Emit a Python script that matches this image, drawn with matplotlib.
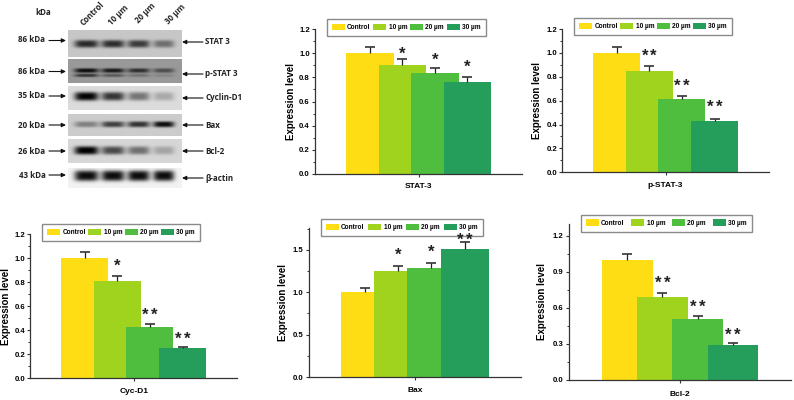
import numpy as np
import matplotlib
matplotlib.use("Agg")
import matplotlib.pyplot as plt
from matplotlib.ticker import MultipleLocator

# chart values
doses = ["Control", "10 µm", "20 µm", "30 µm"]
panel_names = ["STAT-3", "p-STAT-3", "Cyc-D1", "Bax", "Bcl-2"]

stat3_means = [1.0, 0.90, 0.84, 0.76]
stat3_errs = [0.05, 0.05, 0.04, 0.04]
stat3_stars = ["", "*", "*", "*"]
stat3_star_y = [0, 1.005, 0.96, 0.895]

pstat3_means = [1.0, 0.85, 0.61, 0.43]
pstat3_errs = [0.05, 0.04, 0.03, 0.02]
pstat3_stars = ["", "**", "**", "**"]
pstat3_star_y = [0, 0.99, 0.737, 0.556]

cyc_means = [1.0, 0.81, 0.43, 0.25]
cyc_errs = [0.05, 0.04, 0.02, 0.01]
cyc_stars = ["", "*", "**", "**"]
cyc_star_y = [0, 0.95, 0.54, 0.34]

bax_means = [1.0, 1.25, 1.29, 1.51]
bax_errs = [0.05, 0.06, 0.06, 0.08]
bax_stars = ["", "*", "*", "**"]
bax_star_y = [0, 1.46, 1.49, 1.64]

bcl2_means = [1.0, 0.69, 0.51, 0.29]
bcl2_errs = [0.05, 0.03, 0.02, 0.015]
bcl2_stars = ["", "**", "**", "**"]
bcl2_star_y = [0, 0.82, 0.617, 0.386]

# blot band darkness per lane
stat3_bands = [0.62, 0.60, 0.55, 0.35]
pstat3_upper = [0.55, 0.50, 0.42, 0.30]
pstat3_lower = [0.40, 0.25, 0.15, 0.08]
cyclin_bands = [0.85, 0.65, 0.40, 0.20]
bax_bands = [0.30, 0.55, 0.60, 0.75]
bcl2_bands = [0.85, 0.55, 0.40, 0.20]
actin_bands = [0.90, 0.90, 0.90, 0.90]

left_labels = ["86 kDa", "86 kDa", "35 kDa", "20 kDa", "26 kDa", "43 kDa"]
right_labels = ["STAT 3", "p-STAT 3", "Cyclin-D1", "Bax", "Bcl-2", "β-actin"]

colors = ["#FFDD15", "#A0D31D", "#4FBE3F", "#259E5B"]
W, H = 794, 400

plt.rcParams["font.family"] = ["Liberation Sans", "DejaVu Sans"]
plt.rcParams["font.weight"] = "bold"
plt.rcParams["axes.labelweight"] = "bold"

fig = plt.figure(figsize=(W / 100, H / 100), dpi=100)


def px_axes(left, right, top, bottom):
    return fig.add_axes([left / W, 1 - bottom / H, (right - left) / W, (bottom - top) / H])


def bar_panel(box, bars_x, ymax, major, means, errs, stars, star_y, name, legend_box, label_x, name_y):
    left, right, top, bottom = box
    first, step, width = bars_x
    ax = px_axes(left, right, top, bottom)
    xs = np.arange(len(means))
    for i in xs:
        ax.bar(i, means[i], width=width / step, color=colors[i], label=doses[i], zorder=1 + i * 0.01)
        # double stars are set apart by hand, "**" as one string is too tight
        n = len(stars[i])
        for k in range(n):
            dx = (k - (n - 1) / 2) * 6.3
            ax.annotate("*", (i, star_y[i]), xytext=(dx, -4.5), textcoords="offset points",
                        ha="center", va="baseline", fontsize=12, color="#222222", zorder=6)
    # upper half of the error bar only
    ax.vlines(xs, means, np.add(means, errs), color="#222222", lw=0.9, zorder=5)
    ax.plot(xs, np.add(means, errs), ls="none", marker="_", ms=6.5, mew=1.1, color="#222222", zorder=5)

    ax.set_xlim((left - first) / step, (right - first) / step)
    ax.set_ylim(0, ymax)
    ax.set_xticks([1.5])
    ax.set_xticklabels([""])
    ax.yaxis.set_major_locator(MultipleLocator(major))
    ax.yaxis.set_minor_locator(MultipleLocator(major / 2))
    ax.yaxis.set_major_formatter(lambda v, p: f"{v:.1f}")
    ax.tick_params(axis="both", which="major", length=2.2, width=0.8, color="#333333", labelsize=5.6, pad=1.5)
    ax.tick_params(axis="y", which="minor", length=1.3, width=0.7, color="#333333")
    for s in ["top", "right"]:
        ax.spines[s].set_visible(False)
    for s in ["left", "bottom"]:
        ax.spines[s].set_color("#333333")
        ax.spines[s].set_linewidth(0.9)
    ax.set_ylabel("Expression level", fontsize=7.0, va="center")
    ax.yaxis.set_label_coords((label_x - left) / (right - left), 0.5)
    ax.set_xlabel(name, fontsize=6.0, va="center")
    ax.xaxis.set_label_coords(0.5, (bottom - name_y) / (bottom - top))

    x0, x1, y0, y1 = legend_box
    ax.legend(loc="lower left", bbox_to_anchor=(x0 / W, 1 - y1 / H, (x1 - x0) / W, (y1 - y0) / H),
              bbox_transform=fig.transFigure, mode="expand", ncols=4, fontsize=4.7, borderaxespad=0,
              fancybox=False, framealpha=1, edgecolor="#8a8a8a", handlelength=2.0, handleheight=1.1,
              handletextpad=0.35, columnspacing=0.3, borderpad=0.75)
    return ax


bar_panel((315, 522, 29.3, 173.7), (346 + 23.75, 32.5, 47.5), 1.2, 0.2,
          stat3_means, stat3_errs, stat3_stars, stat3_star_y, panel_names[0], (326.7, 485.7, 19.3, 36), 290.7, 186.7)
bar_panel((562.3, 768.7, 29, 172.3), (593 + 23.5, 32.7, 47), 1.2, 0.2,
          pstat3_means, pstat3_errs, pstat3_stars, pstat3_star_y, panel_names[1], (574.3, 731.7, 19.3, 35), 537.3, 186)
bar_panel((30.3, 237.3, 234.3, 378.3), (61 + 23.5, 32.7, 47), 1.2, 0.2,
          cyc_means, cyc_errs, cyc_stars, cyc_star_y, panel_names[2], (42.3, 200, 224.3, 241), 5.7, 391.7)
bar_panel((308.7, 520.7, 228.3, 377), (340.7 + 24.1, 33.3, 48.3), 1.756, 0.5,
          bax_means, bax_errs, bax_stars, bax_star_y, panel_names[3], (320.7, 482.7, 219, 236.3), 283.3, 390.7)
bar_panel((568.7, 790.7, 224.3, 379.7), (602 + 25.25, 35.2, 50.5), 1.295, 0.3,
          bcl2_means, bcl2_errs, bcl2_stars, bcl2_star_y, panel_names[4], (581, 751.7, 214, 231.7), 541.7, 395)

# western blot panel, drawn in pixel coordinates
blot = fig.add_axes([0, 1 - 195 / H, 260 / W, 195 / H])
blot.set_xlim(0, 260)
blot.set_ylim(195, 0)
blot.axis("off")

lane_x = [86, 112.5, 138, 163]
lane_w = [12, 11.5, 11, 10.5]


def strip(y0, y1, bg, rows):
    xx, yy = np.meshgrid(np.linspace(67.7, 181, 340), np.linspace(y0, y1, int((y1 - y0) * 3)))
    img = np.full(xx.shape, float(bg))
    for cy, hy, bands in rows:
        for cx, wx, d in zip(lane_x, lane_w, bands):
            img -= d * np.exp(-np.abs((xx - cx) / wx) ** 4 - np.abs((yy - cy) / hy) ** 3)
    blot.imshow(np.clip(img, 0, 1), cmap="gray", vmin=0, vmax=1, extent=(67.7, 181, y1, y0),
                aspect="auto", interpolation="bilinear")


strip(30, 56.7, 0.78, [(43.7, 3.8, stat3_bands)])
strip(60, 83.3, 0.60, [(71.2, 2.2, pstat3_upper), (76, 1.6, pstat3_lower)])
strip(86, 110, 0.86, [(96.3, 4.4, cyclin_bands)])
strip(114, 136, 0.80, [(124.3, 3.0, bax_bands)])
strip(139.3, 163.3, 0.84, [(150.7, 4.2, bcl2_bands)])
strip(168, 188, 0.95, [(175.7, 5.4, actin_bands)])
blot.set_xlim(0, 260)
blot.set_ylim(195, 0)

blot_font = dict(family=["Open Sans", "DejaVu Sans"], fontsize=5.8, color="#222222", fontweight="bold")
blot.text(43.7, 12.7, "kDa", ha="center", va="center", **blot_font)
for name, x, y in zip(doses, [92, 118.3, 145, 175], [13.3, 15, 13.3, 14]):
    blot.text(x, y, name, rotation=45, ha="center", va="center", **blot_font)

left_y = [40, 71.7, 95.3, 125, 151, 175]
left_arrow_y = [40.5, 71.5, 96, 125, 151, 175]
right_y = [42, 74, 98, 125, 151, 178]
arrow = dict(arrowstyle="-|>,head_length=0.25,head_width=0.12", color="#111111", lw=0.8,
             shrinkA=0, shrinkB=0)
for lab, y, ay in zip(left_labels, left_y, left_arrow_y):
    blot.text(32, y, lab, ha="center", va="center", **blot_font)
    blot.annotate("", xy=(66, ay), xytext=(49, ay), arrowprops=arrow)
for lab, y in zip(right_labels, right_y):
    blot.text(205, y, lab, ha="left", va="center", **blot_font)
    blot.annotate("", xy=(182, y), xytext=(203, y), arrowprops=arrow)

fig.savefig("out.png", dpi=100)
